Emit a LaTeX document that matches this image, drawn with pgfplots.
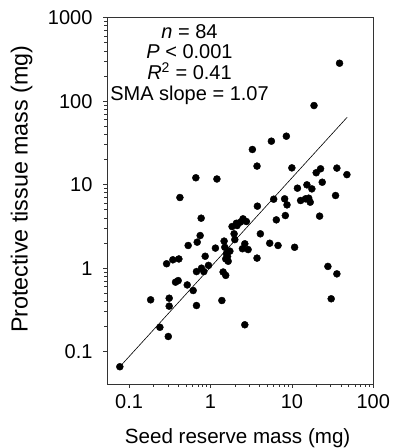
\documentclass[border=0pt]{standalone}
\usepackage{fontspec}
\setmainfont{Liberation Sans}
\usepackage{pgfplots}
\pgfplotsset{compat=1.18}
\begin{document}
\fontsize{20}{24}\selectfont
\begin{tikzpicture}
\begin{axis}[
  scale only axis,
  width=266pt, height=366.3pt,
  xmode=log, ymode=log,
  xmin=0.054, xmax=100,
  ymin=0.041, ymax=1000,
  xtick={0.1,1,10,100}, xticklabels={0.1,1,10,100},
  ytick={0.1,1,10,100,1000}, yticklabels={0.1,1,10,100,1000},
  minor tick num=0,
  minor xtick={}, minor ytick={},
  tick align=outside,
  major tick length=4pt,
  xtick pos=bottom, ytick pos=left,
  axis line style={line width=0.7pt, black!80},
  tick style={line width=0.7pt, black!80},
  /pgf/number format/assume math mode=true,
  tick label style={font=\fontsize{20}{24}\selectfont},
  yticklabel style={xshift=-4pt},
  xlabel={Seed reserve mass (mg)},
  ylabel={Protective tissue mass (mg)},
  xlabel style={font=\fontsize{20.6}{24}\selectfont, at={(axis description cs:0.49,0)}, anchor=center, yshift=-54pt},
  ylabel style={font=\fontsize{23.3}{28}\selectfont, at={(axis description cs:-0.322,0.532)}, anchor=center},
  clip=false,
]
\addplot[only marks, mark=*, mark size=3.5pt, black] coordinates {
(0.077,0.066) (0.184,0.418) (0.239,0.196) (0.303,0.152) (0.311,0.351)
(0.311,0.437) (0.289,1.13) (0.345,1.26) (0.409,1.29) (0.372,0.68)
(0.401,0.71) (0.421,7.02) (0.532,1.87) (0.518,0.63) (0.613,0.54)
(0.661,12.1) (0.687,2.05) (0.747,2.46) (0.768,3.97) (0.673,0.91)
(0.673,0.357) (0.776,1.00) (0.828,0.91) (0.861,1.39) (0.945,1.08)
(1.15,1.74) (1.20,11.7) (1.38,0.41) (1.43,0.90) (1.54,0.82)
(1.47,2.11) (1.50,1.78) (1.57,1.49) (1.54,1.29) (1.65,1.21)
(1.73,1.60) (1.84,3.15) (1.95,2.58) (1.99,2.20) (2.12,3.24)
(2.33,3.56) (2.51,3.90) (2.76,3.62) (2.64,1.96) (2.47,1.71)
(2.90,1.67) (2.64,0.21) (3.27,26.4) (3.73,16.7) (3.77,5.53)
(3.73,1.32) (4.10,2.58) (5.34,1.99) (5.60,33.2) (5.98,6.70)
(6.44,3.79) (6.76,1.87) (8.55,38.1) (8.15,6.77) (8.71,5.73)
(8.31,4.27) (10.0,15.9) (10.8,1.78) (11.7,9.08) (12.8,6.46)
(14.7,6.77) (15.3,9.96) (16.1,6.89) (16.8,6.17) (17.6,8.91)
(18.7,88.7) (19.9,13.9) (22.5,15.5) (21.9,4.20) (23.6,10.7)
(27.7,1.05) (30.4,0.43) (34.4,7.42) (35.7,15.8) (35.7,0.855)
(38.5,285) (47.4,13.2) (2.08,3.45) (1.62,1.38)
};
\addplot[black, line width=0.6pt, no marks] coordinates {(0.077,0.066) (47.8,64.3)};
\node[anchor=north, inner sep=0pt, align=center, font=\fontsize{20}{20.9}\selectfont]
  at (axis description cs:0.309,0.983)
  {\textit{n} = 84\\\textit{P} < 0.001\\\textit{R}\textsuperscript{2} = 0.41\\SMA slope = 1.07};
\end{axis}
\pgfresetboundingbox
\path (current axis.south west) ++(-107.3pt,-64pt) coordinate (bbl);
\path (current axis.north east) ++(20.7pt,17.7pt) coordinate (btr);
\path[use as bounding box] (bbl) rectangle (btr);
\end{tikzpicture}
\end{document}
